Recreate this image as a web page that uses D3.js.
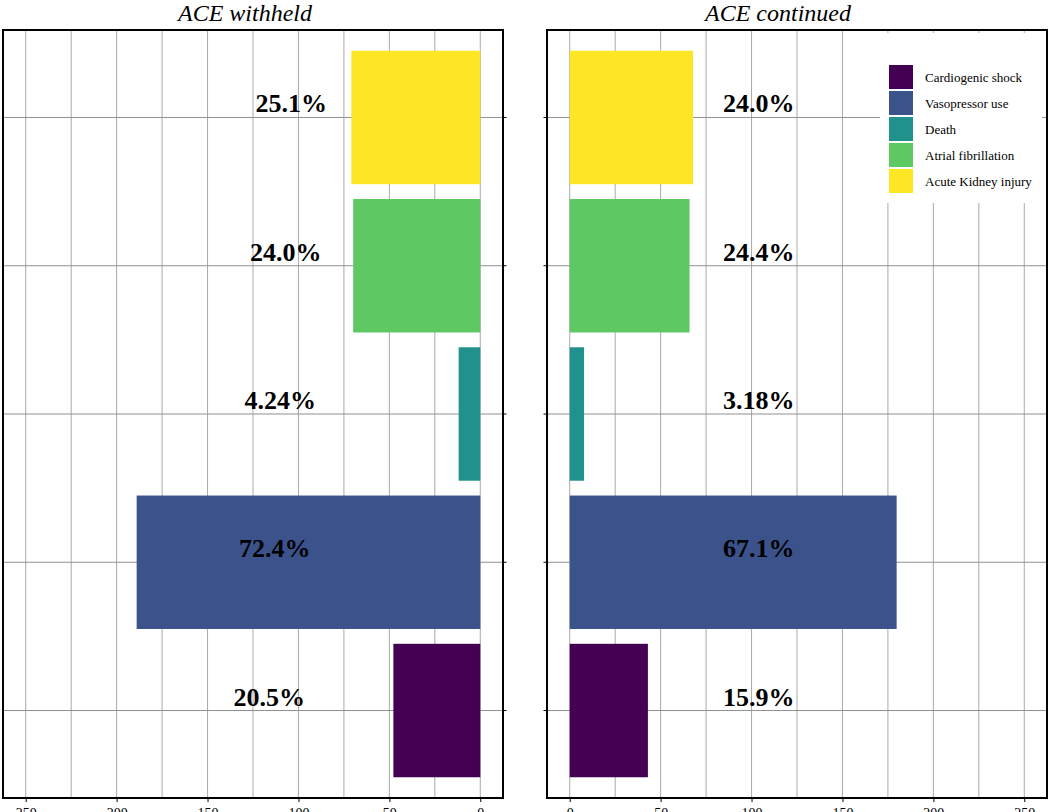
<!DOCTYPE html>
<html>
<head>
<meta charset="utf-8">
<script src="https://cdn.jsdelivr.net/npm/d3@7"></script>
<style>
  html, body { margin: 0; padding: 0; background: #fff; }
  svg { display: block; font-family: "Liberation Serif", "DejaVu Serif", serif; }
</style>
</head>
<body>
<svg id="chart" width="1052" height="812"></svg>
<script>
// categories, bottom to top
var categories = ["Cardiogenic shock", "Vasopressor use", "Death", "Atrial fibrillation", "Acute Kidney injury"];
var withheldCounts = [47.8, 189, 11.9, 69.9, 70.9];
var continuedCounts = [43, 179.8, 7.9, 65.9, 67.8];
var withheldPct = ["20.5%", "72.4%", "4.24%", "24.0%", "25.1%"];
var continuedPct = ["15.9%", "67.1%", "3.18%", "24.4%", "24.0%"];
var xTicks = [0, 50, 100, 150, 200, 250];
var colors = ["#440154", "#3b528b", "#21918c", "#5ec962", "#fde725"];

var svg = d3.select("#chart");
var plotTop = 30, plotBottom = 798;

// y band scale, top of the chart is the last category
var y = d3.scaleBand()
    .domain(categories.slice().reverse())
    .range([plotTop, plotBottom])
    .paddingInner(0.1)
    .paddingOuter(0.14);

var panels = [
    { title: "ACE withheld", x0: 3, x1: 503, counts: withheldCounts, pct: withheldPct, flip: true, titleX: 245, drift: -5.5 },
    { title: "ACE continued", x0: 547, x1: 1047, counts: continuedCounts, pct: continuedPct, flip: false, titleX: 778, drift: 0 }
];

panels.forEach(function(p) {
    var x = d3.scaleLinear()
        .domain([-12.5, 262.5])
        .range(p.flip ? [p.x1, p.x0] : [p.x0, p.x1]);

    var g = svg.append("g");

    // vertical grid every 25
    g.append("g").selectAll("line")
        .data(d3.range(0, 275, 25))
        .enter()
        .append("line")
        .attr("x1", function(d) { return x(d); })
        .attr("x2", function(d) { return x(d); })
        .attr("y1", plotTop)
        .attr("y2", plotBottom)
        .attr("stroke", "#aaaaaa")
        .attr("stroke-width", 1);

    // horizontal grid at category centers
    g.append("g").selectAll("line")
        .data(categories)
        .enter()
        .append("line")
        .attr("x1", p.x0)
        .attr("x2", p.x1)
        .attr("y1", function(d) { return y(d) + y.bandwidth() / 2; })
        .attr("y2", function(d) { return y(d) + y.bandwidth() / 2; })
        .attr("stroke", "#909090")
        .attr("stroke-width", 1);

    // bars
    g.append("g").selectAll("rect")
        .data(categories)
        .enter()
        .append("rect")
        .attr("x", function(d, i) { return Math.min(x(0), x(p.counts[i])); })
        .attr("width", function(d, i) { return Math.abs(x(p.counts[i]) - x(0)); })
        .attr("y", function(d) { return y(d); })
        .attr("height", y.bandwidth())
        .attr("fill", function(d, i) { return colors[i]; });

    // percentage labels
    g.append("g").selectAll("text")
        .data(categories)
        .enter()
        .append("text")
        .attr("x", function(d, i) { return x(104) + p.drift * (categories.length - 1 - i); })
        .attr("y", function(d) { return y(d) + y.bandwidth() / 2 - 5; })
        .attr("text-anchor", "middle")
        .attr("font-size", "26px")
        .attr("font-weight", "bold")
        .attr("fill", "#000")
        .text(function(d, i) { return p.pct[i]; });

    // x axis
    var xAxis = g.append("g")
        .attr("transform", "translate(0," + plotBottom + ")")
        .call(d3.axisBottom(x).tickValues(xTicks).tickSize(4).tickPadding(6));
    xAxis.select(".domain").remove();
    xAxis.selectAll("line").attr("stroke", "#000");
    xAxis.selectAll("text")
        .attr("font-family", "Liberation Serif")
        .attr("font-size", "14px")
        .attr("fill", "#000");

    // y ticks without labels
    var yAxisFn = p.flip ? d3.axisRight(y) : d3.axisLeft(y);
    var yAxis = g.append("g")
        .attr("transform", "translate(" + (p.flip ? p.x1 : p.x0) + ",0)")
        .call(yAxisFn.tickSize(3.5).tickFormat(""));
    yAxis.select(".domain").remove();
    yAxis.selectAll("line").attr("stroke", "#000");

    // frame
    g.append("rect")
        .attr("x", p.x0)
        .attr("y", plotTop)
        .attr("width", p.x1 - p.x0)
        .attr("height", plotBottom - plotTop)
        .attr("fill", "none")
        .attr("stroke", "#000")
        .attr("stroke-width", 2);

    // title
    g.append("text")
        .attr("x", p.titleX)
        .attr("y", 21)
        .attr("text-anchor", "middle")
        .attr("font-size", "24px")
        .attr("font-style", "italic")
        .attr("fill", "#000")
        .text(p.title);
});

// legend in the right panel
var legend = svg.append("g");
legend.append("rect")
    .attr("x", 880)
    .attr("y", 33)
    .attr("width", 162)
    .attr("height", 170)
    .attr("fill", "#fff");

var items = legend.selectAll("g.item")
    .data(categories)
    .enter()
    .append("g")
    .attr("class", "item")
    .attr("transform", function(d, i) { return "translate(889," + (65 + i * 26) + ")"; });

items.append("rect")
    .attr("width", 24)
    .attr("height", 24)
    .attr("fill", function(d, i) { return colors[i]; });

items.append("text")
    .attr("x", 36)
    .attr("y", 16.5)
    .attr("font-size", "13px")
    .attr("fill", "#000")
    .text(function(d) { return d; });
</script>
</body>
</html>
